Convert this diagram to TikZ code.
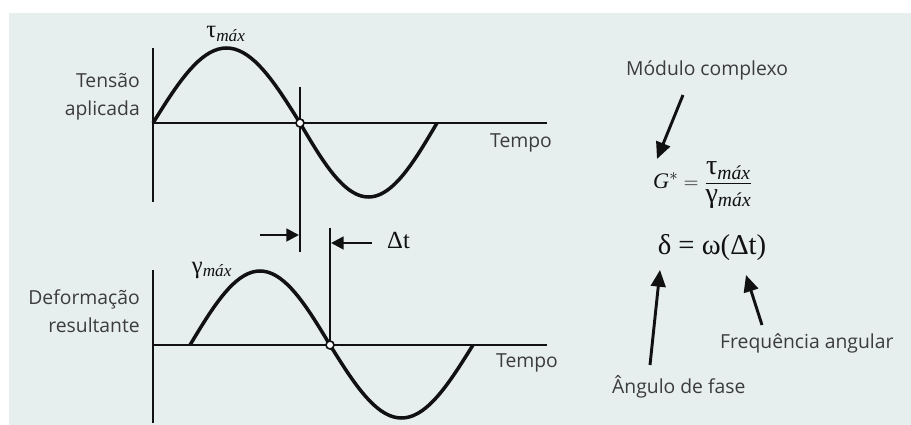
\documentclass[tikz,border=0pt]{standalone}
\usepackage{amsmath}
\usepackage{fontspec}
\setmainfont{Open Sans}
\newfontfamily\eqfont{Liberation Serif}
\usepackage{xcolor}
\usepackage{tikz}
\usetikzlibrary{arrows.meta,positioning}
\definecolor{PlotBg}{HTML}{E7EEEE}
\definecolor{LabelGray}{HTML}{3C3C3C}
\definecolor{LineDark}{HTML}{111111}
\tikzset{
  axisline/.style={line width=2.3pt,draw=LineDark},
  wavecurve/.style={line width=3pt,draw=LineDark,line join=round},
  markline/.style={line width=1.9pt,draw=LineDark},
  crossdot/.style={circle,draw=LineDark,fill=white,line width=1.4pt,inner sep=0pt,minimum size=0.24cm},
  gaparrow/.style={-{Triangle[length=3.8mm,width=3.8mm]},line width=2.3pt,draw=LineDark},
  callarrow/.style={-{Triangle[length=5mm,width=4.4mm]},line width=2.5pt,draw=LineDark},
  labeltext/.style={text=LabelGray,font=\fontsize{16.5}{23.5}\selectfont,inner sep=0pt},
  eqtext/.style={text=LineDark,font=\eqfont\fontsize{21}{24}\selectfont,inner sep=0pt}
}
\newcommand{\mx}[1]{\mbox{\eqfont #1\textsubscript{\itshape máx}}}
\begin{document}
\begin{tikzpicture}[x=0.03cm,y=-0.03cm]
\useasboundingbox (0,0) rectangle (911,425);
\fill[PlotBg] (9,13) rectangle (911,425);
% tensão aplicada
\draw[axisline] (153,48) -- (153,202);
\draw[axisline] (153,123) -- (547,123);
\draw[wavecurve] plot[domain=0:180,samples=37] ({153+\x/180*147},{123-75*sin(\x)})
  -- plot[domain=0:180,samples=37] ({300+\x/180*137},{123+74*sin(\x)});
\draw[markline] (300,87) -- (300,252);
\node[crossdot] (c1) at (300,123) {};
\node[eqtext] (taumax) at (226,34) {\mx{τ}};
\node[labeltext,anchor=east,align=right] (tensao) at (140,97) {Tensão\\aplicada};
\node[labeltext] (tempo1) at (521,143) {Tempo};
% deformação resultante
\draw[axisline] (153,270) -- (153,423);
\draw[axisline] (153,345) -- (547,345);
\draw[wavecurve] plot[domain=0:180,samples=37] ({190+\x/180*140},{345-74*sin(\x)})
  -- plot[domain=0:180,samples=37] ({330+\x/180*143},{345+73*sin(\x)});
\draw[markline] (330,228) -- (330,345);
\node[crossdot,minimum height=0.22cm] (c2) at (330,345) {};
\node[eqtext] (gammax) at (212,270) {\mx{γ}};
\node[labeltext,anchor=east,align=right] (deform) at (140,311) {Deformação\\resultante};
\node[labeltext] (tempo2) at (527,363) {Tempo};
% defasagem
\coordinate (g1) at (260,235);
\coordinate (g1tip) at (299,235);
\coordinate (g2) at (372,243);
\coordinate (g2tip) at (331,243);
\draw[gaparrow] (g1) -- (g1tip);
\draw[gaparrow] (g2) -- (g2tip);
\node[eqtext,anchor=west] (deltat) at (387,241) {Δt};
% equações
\node[labeltext] (modulo) at (707,70) {Módulo complexo};
\node[eqtext,font=\eqfont\fontsize{19}{22}\selectfont] (gstar) at (703,185) {$\mbox{\eqfont\itshape G}^{*}\;{=}\;\dfrac{\mx{\fontsize{24}{24}\selectfont τ}}{\mx{\fontsize{24}{24}\selectfont γ}}$};
\node[eqtext,font=\eqfont\fontsize{24.5}{28}\selectfont] (delta) at (712,248) {δ = ω(Δt)};
\node[labeltext,anchor=west] (freq) at (720,343) {Frequência angular};
\node[labeltext,anchor=west] (angulo) at (612,387) {Ângulo de fase};
\coordinate (m1) at (683,95);
\coordinate (m2) at (657,159);
\coordinate (a1) at (650,365);
\coordinate (a2) at (660,270);
\coordinate (f1) at (762,325);
\coordinate (f2) at (746,275);
\draw[callarrow] (m1) -- (m2);
\draw[callarrow] (a1) -- (a2);
\draw[callarrow] (f1) -- (f2);
\end{tikzpicture}
\end{document}
